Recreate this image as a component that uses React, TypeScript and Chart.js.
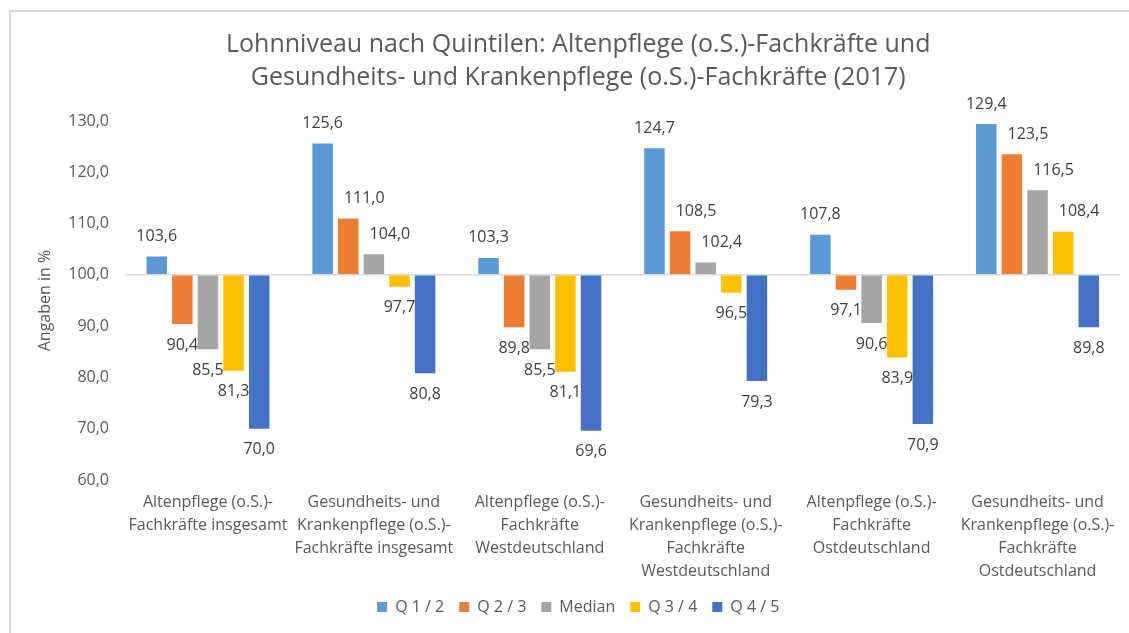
import React, { useEffect, useRef } from "react";
import { Chart, registerables } from "chart.js";

Chart.register(...registerables);

const titleLines = [
  "Lohnniveau nach Quintilen: Altenpflege (o.S.)-Fachkräfte und",
  "Gesundheits- und Krankenpflege (o.S.)-Fachkräfte (2017)",
];
const yAxisTitle = "Angaben in %";

const categories = [
  ["Altenpflege (o.S.)-", "Fachkräfte insgesamt"],
  ["Gesundheits- und", "Krankenpflege (o.S.)-", "Fachkräfte insgesamt"],
  ["Altenpflege (o.S.)-", "Fachkräfte", "Westdeutschland"],
  ["Gesundheits- und", "Krankenpflege (o.S.)-", "Fachkräfte", "Westdeutschland"],
  ["Altenpflege (o.S.)-", "Fachkräfte", "Ostdeutschland"],
  ["Gesundheits- und", "Krankenpflege (o.S.)-", "Fachkräfte", "Ostdeutschland"],
];

const seriesNames = ["Q 1 / 2", "Q 2 / 3", "Median", "Q 3 / 4", "Q 4 / 5"];
const seriesColors = ["#5B9BD5", "#ED7D31", "#A5A5A5", "#FFC000", "#4472C4"];

const q12 = [103.6, 125.6, 103.3, 124.7, 107.8, 129.4];
const q23 = [90.4, 111.0, 89.8, 108.5, 97.1, 123.5];
const median = [85.5, 104.0, 85.5, 102.4, 90.6, 116.5];
const q34 = [81.3, 97.7, 81.1, 96.5, 83.9, 108.4];
const q45 = [70.0, 80.8, 69.6, 79.3, 70.9, 89.8];

const seriesValues = [q12, q23, median, q34, q45];

const baseline = 100;
const yMin = 60;
const yMax = 130;
const yStep = 10;

const FONT = "'Open Sans', sans-serif";
const TEXT = "#595959";

const fmt = (v: number) => v.toFixed(1).replace(".", ",");

// Value labels: above the bar end for values over the baseline, below otherwise.
// A label above a bar that follows a taller bar is nudged right so it clears that bar.
const valueLabels = {
  id: "valueLabels",
  afterDatasetsDraw(chart: any) {
    const ctx = chart.ctx;
    ctx.save();
    ctx.font = `16px ${FONT}`;
    ctx.fillStyle = "#404040";
    ctx.textBaseline = "middle";
    chart.data.datasets.forEach((ds: any, i: number) => {
      const meta = chart.getDatasetMeta(i);
      meta.data.forEach((bar: any, j: number) => {
        const v = ds.data[j] as number;
        const text = fmt(v);
        if (v >= baseline) {
          const y = bar.y - 20;
          let x = bar.x;
          if (i > 0) {
            const prevVal = chart.data.datasets[i - 1].data[j] as number;
            const prevBar = chart.getDatasetMeta(i - 1).data[j] as any;
            if (prevVal > v) {
              const w = ctx.measureText(text).width;
              const prevRight = prevBar.x + prevBar.width / 2;
              x = Math.max(x, prevRight + 11 + w / 2);
            }
          }
          ctx.textAlign = "center";
          ctx.fillText(text, x, y);
        } else {
          ctx.textAlign = "center";
          ctx.fillText(text, bar.x, bar.y + 21);
        }
      });
    });
    ctx.restore();
  },
};

export default function App() {
  const canvasRef = useRef<HTMLCanvasElement | null>(null);

  useEffect(() => {
    if (!canvasRef.current) return;
    const chart = new Chart(canvasRef.current, {
      type: "bar",
      data: {
        labels: categories,
        datasets: seriesNames.map((name, i) => ({
          label: name,
          data: seriesValues[i],
          base: baseline,
          backgroundColor: seriesColors[i],
          borderWidth: 0,
          categoryPercentage: 0.772,
          barPercentage: 0.8,
        })),
      },
      options: {
        animation: false,
        responsive: true,
        maintainAspectRatio: false,
        layout: { padding: { left: 36, right: 8.5, top: 0, bottom: 8 } },
        plugins: {
          tooltip: { enabled: false },
          title: {
            display: true,
            text: titleLines,
            color: TEXT,
            font: { family: FONT, size: 25, weight: "normal", lineHeight: 1.32 },
            padding: { top: 28, bottom: 27 },
          },
          legend: {
            position: "bottom",
            labels: {
              boxWidth: 10,
              boxHeight: 10,
              padding: 15,
              color: TEXT,
              font: { family: FONT, size: 16 },
            },
          },
        },
        scales: {
          x: {
            grid: { display: false },
            border: { display: false },
            ticks: {
              color: TEXT,
              font: { family: FONT, size: 16, lineHeight: 1.44 },
              padding: 3,
              maxRotation: 0,
              minRotation: 0,
              autoSkip: false,
            },
            afterFit(scale: any) {
              scale.height = 104;
            },
          },
          y: {
            min: yMin,
            max: yMax,
            grid: {
              drawTicks: false,
              lineWidth: 1.5,
              color: (c: any) => (c.tick && c.tick.value === baseline ? "#D9D9D9" : "rgba(0,0,0,0)"),
            },
            border: { display: false },
            ticks: {
              stepSize: yStep,
              color: TEXT,
              font: { family: FONT, size: 16 },
              padding: 16,
              callback: (v: any) => fmt(Number(v)),
            },
            title: {
              display: true,
              text: yAxisTitle,
              color: TEXT,
              font: { family: FONT, size: 16 },
              padding: { top: 0, bottom: 0 },
            },
            afterFit(scale: any) {
              scale.width = 89;
            },
          },
        },
      } as any,
      plugins: [valueLabels],
    });
    return () => chart.destroy();
  }, []);

  return (
    <div style={{ position: "fixed", left: 0, top: 0, width: 1129, height: 633, background: "#fff", overflow: "hidden" }}>
      <div
        style={{
          position: "absolute",
          left: 9,
          top: 10,
          width: 1200,
          height: 700,
          border: "2px solid #D9D9D9",
          boxSizing: "border-box",
          pointerEvents: "none",
        }}
      />
      <canvas ref={canvasRef} style={{ position: "absolute", left: 0, top: 0 }} />
    </div>
  );
}
